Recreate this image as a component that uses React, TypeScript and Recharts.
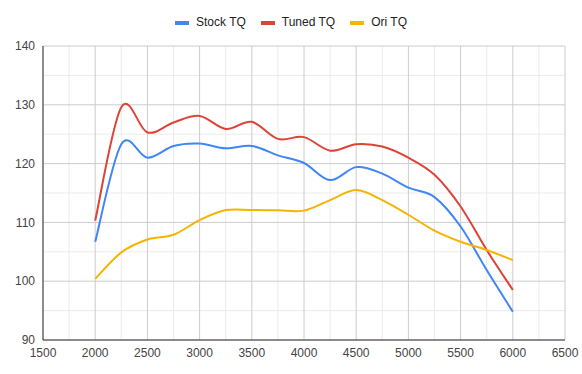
import React from 'react';
import { LineChart, Line, XAxis, YAxis, CartesianGrid } from 'recharts';

const rpm = [2000, 2250, 2500, 2750, 3000, 3250, 3500, 3750, 4000, 4250, 4500, 4750, 5000, 5250, 5500, 5750, 6000];
const stockTQ = [106.7, 123.3, 121.0, 123.0, 123.4, 122.6, 123.0, 121.4, 120.1, 117.2, 119.4, 118.3, 115.9, 114.3, 109.3, 101.9, 94.8];
const tunedTQ = [110.3, 129.6, 125.3, 127.0, 128.1, 125.9, 127.1, 124.2, 124.5, 122.2, 123.3, 122.9, 121.0, 118.1, 112.7, 105.3, 98.5];
const oriTQ = [100.4, 104.9, 107.1, 107.9, 110.4, 112.1, 112.1, 112.05, 112.0, 113.8, 115.5, 113.8, 111.3, 108.6, 106.7, 105.3, 103.6];

const xTicks = [1500, 2000, 2500, 3000, 3500, 4000, 4500, 5000, 5500, 6000, 6500];
const xMinor = [1750, 2250, 2750, 3250, 3750, 4250, 4750, 5250, 5750, 6250];
const yTicks = [90, 100, 110, 120, 130, 140];
const yMinor = [95, 105, 115, 125, 135];

const seriesNames = ['Stock TQ', 'Tuned TQ', 'Ori TQ'];
const seriesKeys = ['stock', 'tuned', 'ori'];
const seriesColors = ['#4285f4', '#db4437', '#f4b400'];

const data = rpm.map((r, i) => ({ rpm: r, stock: stockTQ[i], tuned: tunedTQ[i], ori: oriTQ[i] }));

const FONT = "Arial, 'Liberation Sans', sans-serif";

// Catmull-Rom style smoothing curve (similar to Google Charts "function" curve)
const smoothCurve: any = (context: any) => {
  let pts: number[][] = [];
  return {
    areaStart() {},
    areaEnd() {},
    lineStart() {
      pts = [];
    },
    point(x: number, y: number) {
      pts.push([+x, +y]);
    },
    lineEnd() {
      const n = pts.length;
      if (!n) return;
      context.moveTo(pts[0][0], pts[0][1]);
      for (let i = 0; i < n - 1; i++) {
        const p0 = pts[i - 1] || pts[i];
        const p1 = pts[i];
        const p2 = pts[i + 1];
        const p3 = pts[i + 2] || p2;
        context.bezierCurveTo(
          p1[0] + (p2[0] - p0[0]) / 6,
          p1[1] + (p2[1] - p0[1]) / 6,
          p2[0] - (p3[0] - p1[0]) / 6,
          p2[1] - (p3[1] - p1[1]) / 6,
          p2[0],
          p2[1]
        );
      }
    },
  };
};

export default function App() {
  return (
    <div style={{ position: 'absolute', left: 0, top: 0, width: 582, height: 374, background: '#fff', fontFamily: FONT }}>
      <div
        style={{
          position: 'absolute',
          left: 0,
          top: 14,
          width: 582,
          height: 16,
          display: 'flex',
          justifyContent: 'center',
          alignItems: 'center',
          fontSize: 12,
          color: '#222',
          lineHeight: '16px',
        }}
      >
        {seriesNames.map((name, i) => (
          <div key={name} style={{ display: 'flex', alignItems: 'center', marginRight: i < seriesNames.length - 1 ? 15 : 0 }}>
            <span style={{ display: 'inline-block', width: 14, height: 4, background: seriesColors[i], marginRight: 7, marginTop: 2 }} />
            <span>{name}</span>
          </div>
        ))}
      </div>
      <LineChart width={582} height={374} data={data} margin={{ top: 46, right: 17, bottom: 4, left: 0 }}>
        <CartesianGrid stroke="#ebebeb" horizontalValues={yMinor} verticalValues={xMinor} />
        <CartesianGrid stroke="#cccccc" horizontalValues={yTicks} verticalValues={xTicks} />
        <XAxis
          dataKey="rpm"
          type="number"
          domain={[1500, 6500]}
          ticks={xTicks}
          interval={0}
          height={30}
          tickLine={false}
          axisLine={{ stroke: '#333' }}
          tick={{ fill: '#444', fontSize: 12, fontFamily: FONT }}
        />
        <YAxis
          type="number"
          domain={[90, 140]}
          ticks={yTicks}
          interval={0}
          width={43}
          tickLine={false}
          axisLine={{ stroke: '#333' }}
          tick={{ fill: '#444', fontSize: 12, fontFamily: FONT }}
        />
        {seriesKeys.map((k, i) => (
          <Line
            key={k}
            dataKey={k}
            name={seriesNames[i]}
            type={smoothCurve}
            stroke={seriesColors[i]}
            strokeWidth={2}
            dot={false}
            activeDot={false}
            isAnimationActive={false}
          />
        ))}
      </LineChart>
    </div>
  );
}
